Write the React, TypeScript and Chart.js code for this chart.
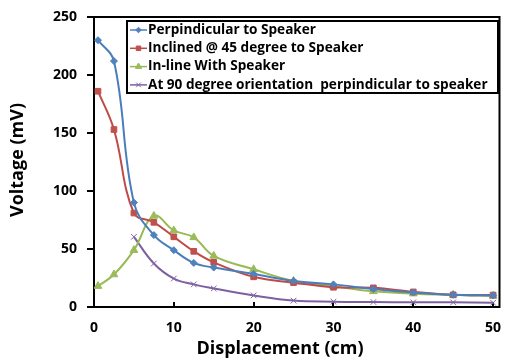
import React, { useEffect, useRef } from "react";
import { Chart, registerables } from "chart.js";
import { drawPoint } from "chart.js/helpers";

Chart.register(...registerables);

// Displacement from the speaker (cm)
const displacement = [0.5, 2.5, 5, 7.5, 10, 12.5, 15, 20, 25, 30, 35, 40, 45, 50];
const displacement90 = [5, 7.5, 10, 12.5, 15, 20, 25, 30, 35, 40, 45, 50];

// Measured voltage (mV)
const perpendicular = [230, 212, 90, 62, 49, 38, 34, 28.5, 22.5, 19.5, 15.5, 12.5, 10.5, 10];
const inclined45 = [186, 153, 81, 73, 60.5, 48, 38.5, 26, 21, 17, 16.5, 13, 10.5, 10.3];
const inLine = [18, 28, 49, 78.5, 66, 60, 44, 32.5, 22.5, 18, 13.5, 11.5, 10.5, 9.5];
const orient90 = [60.5, 37.5, 24.5, 19.5, 16, 10, 5.5, 4.6, 4.3, 4, 4, 3.7];

const seriesLabels = [
  "Perpindicular to Speaker",
  "Inclined @ 45 degree to Speaker",
  "In-line With Speaker",
  "At 90 degree orientation  perpindicular to speaker",
];

const xTickValues = [0, 10, 20, 30, 40, 50];

const FONT = "'Open Sans', Lato, sans-serif";

const toPoints = (xs: number[], ys: number[]) => xs.map((x, i) => ({ x, y: ys[i] }));

// Draws the plot frame, inward x tick marks, axis titles and the boxed legend.
const framePlugin = {
  id: "frameAndLegend",
  beforeDatasetsDraw(chart: any) {
    const { ctx, chartArea } = chart;
    const xs = chart.scales.x;
    ctx.save();
    ctx.strokeStyle = "#000";
    ctx.lineWidth = 2;
    ctx.strokeRect(chartArea.left, chartArea.top, chartArea.right - chartArea.left, chartArea.bottom - chartArea.top);
    ctx.beginPath();
    for (const v of xTickValues) {
      if (v === 0) continue;
      const px = Math.round(xs.getPixelForValue(v));
      ctx.moveTo(px, chartArea.bottom);
      ctx.lineTo(px, chartArea.bottom - 5);
    }
    ctx.stroke();
    ctx.restore();
  },
  afterDraw(chart: any) {
    const { ctx } = chart;
    ctx.save();
    // axis titles
    ctx.fillStyle = "#000";
    ctx.font = `bold 18px ${FONT}`;
    ctx.textAlign = "center";
    ctx.textBaseline = "middle";
    ctx.fillText("Displacement (cm)", 280, 349);
    ctx.translate(18, 160);
    ctx.rotate(-Math.PI / 2);
    ctx.fillText("Voltage (mV)", 0, 0);
    ctx.restore();

    // legend
    const box = { left: 127, top: 21, right: 498, bottom: 93 };
    ctx.save();
    ctx.fillStyle = "#fff";
    ctx.fillRect(box.left, box.top, box.right - box.left, box.bottom - box.top);
    ctx.strokeStyle = "#000";
    ctx.lineWidth = 2;
    ctx.strokeRect(box.left, box.top, box.right - box.left, box.bottom - box.top);
    chart.data.datasets.forEach((ds: any, i: number) => {
      const y = 30 + i * 18.3;
      ctx.strokeStyle = ds.borderColor;
      ctx.lineWidth = 1.5;
      ctx.beginPath();
      ctx.moveTo(130, y);
      ctx.lineTo(147, y);
      ctx.stroke();
      ctx.fillStyle = ds.pointBackgroundColor;
      ctx.strokeStyle = ds.pointBorderColor;
      ctx.lineWidth = 1;
      drawPoint(ctx, { pointStyle: ds.pointStyle, radius: ds.pointRadius * 0.8, rotation: 0, borderWidth: 1 }, 138.5, y);
      ctx.fillStyle = "#000";
      ctx.font = `bold 13.6px ${FONT}`;
      ctx.textAlign = "left";
      ctx.textBaseline = "middle";
      ctx.fillText(ds.label, 148, y);
    });
    ctx.restore();
  },
};

function makeDataset(label: string, xs: number[], ys: number[], line: string, marker: string, style: string, radius: number) {
  return {
    label,
    data: toPoints(xs, ys),
    borderColor: line,
    backgroundColor: marker,
    pointBackgroundColor: marker,
    pointBorderColor: marker,
    pointStyle: style,
    pointRadius: radius,
    pointBorderWidth: 1,
    borderWidth: 2,
    tension: 0.4,
    showLine: true,
  };
}

export default function App() {
  const canvasRef = useRef<HTMLCanvasElement | null>(null);

  useEffect(() => {
    document.body.style.margin = "0";
    const canvas = canvasRef.current;
    if (!canvas) return;
    const chart = new Chart(canvas, {
      type: "scatter",
      data: {
        datasets: [
          makeDataset(seriesLabels[0], displacement, perpendicular, "#4A7EBB", "#4F81BD", "rectRot", 3.5),
          makeDataset(seriesLabels[1], displacement, inclined45, "#BE4B48", "#C0504D", "rect", 4),
          makeDataset(seriesLabels[2], displacement, inLine, "#98B954", "#9BBB59", "triangle", 4.5),
          makeDataset(seriesLabels[3], displacement90, orient90, "#7D60A0", "#8064A2", "crossRot", 4),
        ] as any,
      },
      options: {
        responsive: false,
        animation: false,
        layout: { padding: { top: 17, right: 3, left: 0, bottom: 0 } },
        plugins: { legend: { display: false }, tooltip: { enabled: false } },
        scales: {
          x: {
            type: "linear",
            min: 0,
            max: 50.8,
            grid: { display: false, drawTicks: false },
            border: { display: false },
            ticks: {
              stepSize: 10,
              includeBounds: false,
              color: "#000",
              padding: 13,
              font: { family: FONT, size: 14, weight: "bold" },
            },
            afterFit(scale: any) {
              scale.height = 54;
              scale.paddingLeft = 0;
              scale.paddingRight = 0;
            },
          },
          y: {
            type: "linear",
            min: 0,
            max: 250,
            grid: { drawOnChartArea: false, drawTicks: true, tickLength: 7, color: "#000", lineWidth: 2 },
            border: { display: false },
            ticks: {
              stepSize: 50,
              color: "#000",
              padding: 10,
              font: { family: FONT, size: 14, weight: "bold" },
            },
            afterFit(scale: any) {
              scale.width = 94;
              scale.paddingTop = 0;
              scale.paddingBottom = 0;
            },
          },
        },
      },
      plugins: [framePlugin],
    });
    return () => chart.destroy();
  }, []);

  return (
    <div style={{ width: 505, height: 361, background: "#fff" }}>
      <canvas ref={canvasRef} width={505} height={361} />
    </div>
  );
}
